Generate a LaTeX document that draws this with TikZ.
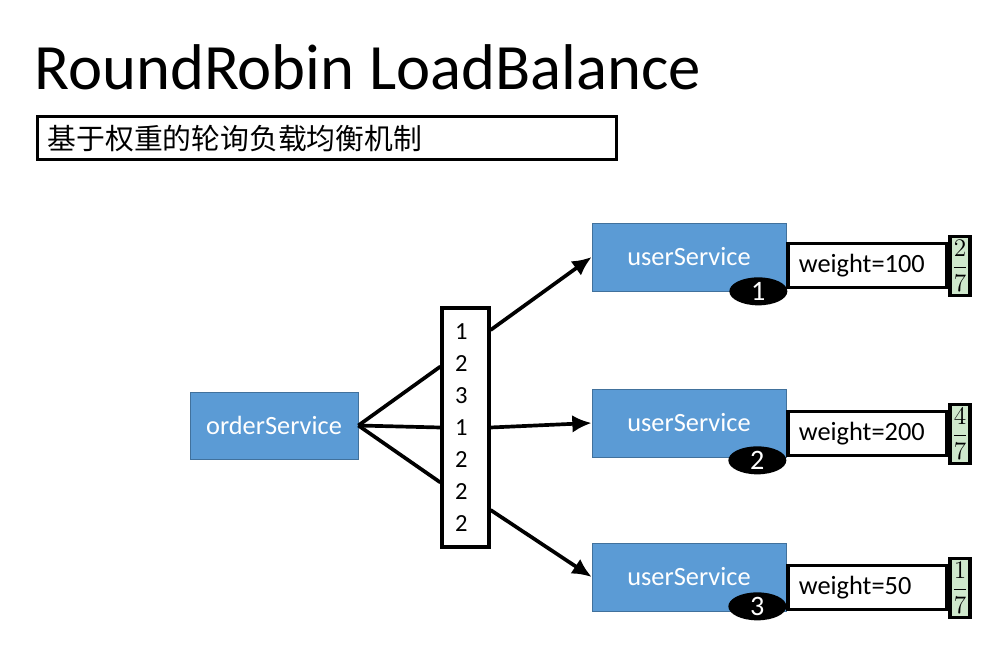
\documentclass[tikz,border=0pt]{standalone}
\usepackage{fontspec}
\setmainfont{Carlito}
\newfontfamily\cjk{Noto Sans CJK SC}
\usetikzlibrary{arrows.meta,shapes.geometric,positioning}
\definecolor{svcblue}{HTML}{5B9BD5}
\definecolor{svcedge}{HTML}{41719C}
\definecolor{fracgreen}{HTML}{CFE8CC}

\begin{document}
\begin{tikzpicture}[x=0.02cm,y=-0.02cm]

    \tikzset{
      service/.style={
        draw=svcedge,
        fill=svcblue,
        text=white,
        font=\fontsize{15}{18}\selectfont,
        minimum width=3.88cm,
        minimum height=1.36cm,
        inner sep=0pt,
      },
      weightbox/.style={
        draw,
        line width=1.8pt,
        font=\fontsize{15}{18}\selectfont,
        minimum height=0.88cm,
        text width=2.74cm,
        inner xsep=0.22cm,
        inner ysep=0pt,
        align=left,
        anchor=south west,
      },
      fracbox/.style={
        draw,
        line width=1.8pt,
        fill=fracgreen,
        minimum width=0.4cm,
        minimum height=1.18cm,
        inner sep=0pt,
        anchor=west,
        font=\fontsize{15.5}{17}\selectfont,
      },
      badge/.style={
        ellipse,
        fill=black,
        text=white,
        font=\fontsize{16}{18}\selectfont,
        minimum width=1.16cm,
        minimum height=0.56cm,
        inner sep=0pt,
      },
      link/.style={line width=2.1pt},
      arrow/.style={line width=2.1pt,-{Latex[length=11pt,width=10pt]}},
    }
    \useasboundingbox (0,0) rectangle (994,668);

    % title and caption
    \node[anchor=base west,font=\fontsize{36.8}{40}\selectfont,inner sep=0pt] (title) at (34,90) {RoundRobin LoadBalance};
    \node[draw,line width=1.8pt,anchor=north west,minimum height=0.86cm,text width=11.18cm,
      inner xsep=0.2cm,align=left,font=\cjk\fontsize{16.4}{18}\selectfont] (caption) at (36,115) {基于权重的轮询负载均衡机制};

    % caller and request list
    \node[service,minimum width=3.36cm,minimum height=1.34cm] (order) at (274,425.5) {orderService};
    \node[draw,line width=1.8pt,minimum height=4.78cm,text width=0.42cm,inner xsep=0.26cm,inner ysep=0pt,align=left,
      font=\fontsize{14}{18.14}\selectfont] (queue) at (465.5,427.5) {1\\2\\3\\1\\2\\2\\2};

    % providers
    \node[service] (user1) at (689,257) {userService};
    \node[service] (user2) at (689,423) {userService};
    \node[service] (user3) at (689,577) {userService};

    \node[weightbox] (weight1) at ([yshift=0.04cm]user1.south east) {weight=100};
    \node[weightbox] (weight2) at (user2.south east) {weight=200};
    \node[weightbox] (weight3) at (user3.south east) {weight=50};

    \node[fracbox] (share1) at (weight1.east) {$\displaystyle\frac{2}{7}$};
    \node[fracbox] (share2) at (weight2.east) {$\displaystyle\frac{4}{7}$};
    \node[fracbox] (share3) at (weight3.east) {$\displaystyle\frac{1}{7}$};

    \node[badge] (no1) at ([xshift=-0.56cm]user1.south east) {1};
    \node[badge] (no2) at ([xshift=-0.58cm,yshift=-0.06cm]user2.south east) {2};
    \node[badge] (no3) at ([xshift=-0.58cm,yshift=0.1cm]user3.south east) {3};

    % connectors
    \draw[link] (order.east) -- ([yshift=1.22cm]queue.west);
    \draw[link] (order.east) -- (queue.west);
    \draw[link] (order.east) -- ([yshift=-1.1cm]queue.west);

    \draw[arrow] ([yshift=1.95cm]queue.east) -- (user1.west);
    \draw[arrow] (queue.east) -- (user2.west);
    \draw[arrow] ([yshift=-1.65cm]queue.east) -- (user3.west);

\end{tikzpicture}
\end{document}
